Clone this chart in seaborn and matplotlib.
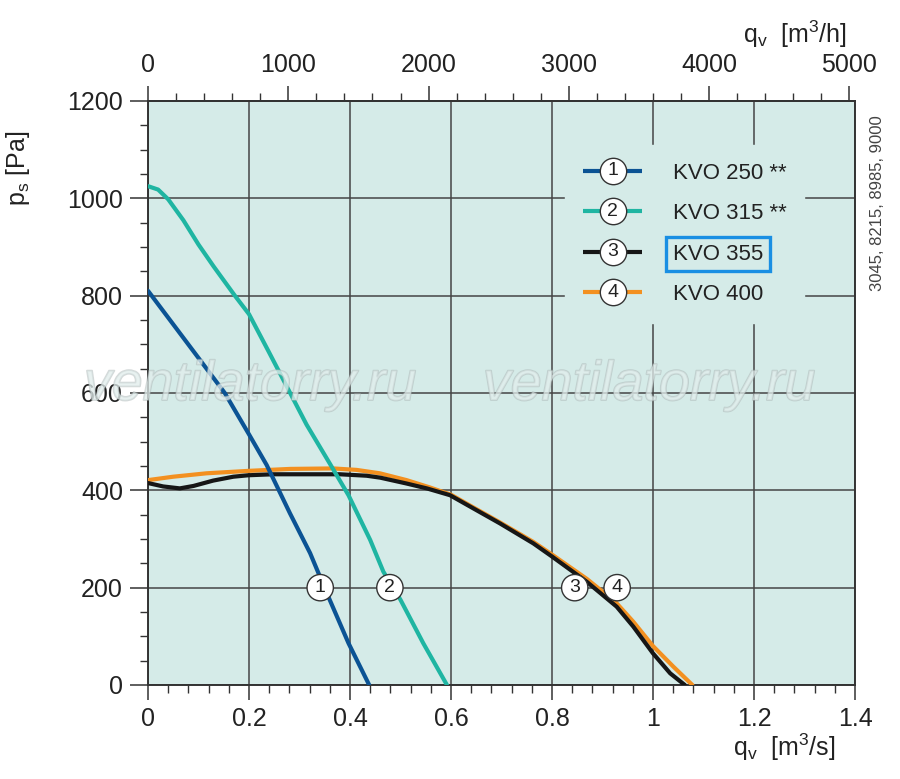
import matplotlib
matplotlib.use('Agg')
import matplotlib.pyplot as plt
import matplotlib.patheffects as pe
from matplotlib.lines import Line2D
from matplotlib.text import Text
from matplotlib.legend_handler import HandlerBase
from matplotlib.ticker import MultipleLocator, FixedLocator, FuncFormatter
import seaborn as sns
import pandas as pd

# curves: flow q_v [m3/s] vs static pressure p_s [Pa]
q_250 = [0, 0.05, 0.1, 0.152, 0.2, 0.235, 0.281, 0.321, 0.354, 0.397, 0.438]
p_250 = [810, 741, 672, 600, 515, 452, 353, 271, 189, 86, 0]

q_315 = [0, 0.02, 0.04, 0.07, 0.1, 0.13, 0.172, 0.2, 0.24, 0.268, 0.314, 0.36, 0.397, 0.44, 0.466, 0.5, 0.545, 0.592]
p_315 = [1025, 1018, 998, 955, 905, 860, 800, 762, 683, 627, 535, 455, 390, 298, 233, 175, 86, 0]

q_355 = [0, 0.03, 0.063, 0.09, 0.129, 0.169, 0.199, 0.248, 0.314, 0.38, 0.433, 0.46, 0.512, 0.552, 0.598,
         0.644, 0.697, 0.763, 0.8, 0.869, 0.928, 0.961, 1.0, 1.034, 1.063]
p_355 = [415, 408, 404, 409, 420, 428, 431, 433, 433, 433, 430, 426, 414, 404, 390,
         363, 332, 291, 264, 212, 161, 120, 65, 24, 0]

q_400 = [0, 0.05, 0.116, 0.199, 0.281, 0.367, 0.413, 0.459, 0.512, 0.558, 0.6,
         0.644, 0.697, 0.763, 0.8, 0.869, 0.9, 0.928, 0.961, 1.0, 1.04, 1.078]
p_400 = [421, 428, 435, 440, 444, 445, 442, 435, 421, 406, 391,
         365, 334, 294, 268, 218, 192, 168, 130, 80, 38, 0]

names = ['KVO 250 **', 'KVO 315 **', 'KVO 355', 'KVO 400']
numbers = ['1', '2', '3', '4']
colors = ['#0b5394', '#1fb5a2', '#161616', '#f39020']
# where the circled numbers sit on the curves (q_v, p_s)
mark_q = [0.341, 0.479, 0.845, 0.929]
mark_p = [200, 200, 200, 200]
top_ticks = [0, 1000, 2000, 3000, 4000, 5000]

bg = '#d5ebe8'
grid_c = '#454545'

sns.set_theme(style='ticks')
plt.rcParams['font.family'] = ['Liberation Sans', 'DejaVu Sans']
plt.rcParams['mathtext.default'] = 'regular'

fig = plt.figure(figsize=(9, 7.79), dpi=100)
ax = fig.add_axes([148 / 900, 1 - 685 / 779, 707 / 900, 584 / 779])
ax.set_facecolor(bg)

curves = {
    'KVO 250 **': (q_250, p_250),
    'KVO 315 **': (q_315, p_315),
    'KVO 355': (q_355, p_355),
    'KVO 400': (q_400, p_400),
}
zorders = {'KVO 400': 3, 'KVO 355': 4, 'KVO 315 **': 5, 'KVO 250 **': 6}
for name, col in zip(names, colors):
    q, p = curves[name]
    df = pd.DataFrame({'q': q, 'p': p})
    sns.lineplot(data=df, x='q', y='p', sort=False, estimator=None, color=col,
                 lw=3, ax=ax, zorder=zorders[name])

for n, xq, yp in zip(numbers, mark_q, mark_p):
    ax.text(xq, yp, n, ha='center', va='center', fontsize=14, color='#222', zorder=8,
            bbox=dict(boxstyle='circle,pad=0.24', fc='white', ec='#333', lw=1))

ax.set_xlim(0, 1.4)
ax.set_ylim(0, 1200)
ax.xaxis.set_major_locator(MultipleLocator(0.2))
ax.xaxis.set_minor_locator(MultipleLocator(0.04))
ax.yaxis.set_major_locator(MultipleLocator(200))
ax.yaxis.set_minor_locator(MultipleLocator(50))
ax.xaxis.set_major_formatter(FuncFormatter(lambda v, _: '%g' % round(v, 2)))
ax.grid(True, which='major', color=grid_c, lw=1.1)
ax.set_axisbelow(True)
ax.set_xlabel('')
ax.set_ylabel('')
for s in ax.spines.values():
    s.set_color('#333')
    s.set_linewidth(1.4)
ax.tick_params(which='major', length=11, width=1.1, color='#333', labelsize=18,
               labelcolor='#222', pad=5)
ax.tick_params(which='minor', length=6, width=1.0, color='#333')
ax.tick_params(axis='y', which='major', length=13)

top = ax.secondary_xaxis('top', functions=(lambda v: v * 3600, lambda v: v / 3600))
top.xaxis.set_major_locator(FixedLocator(top_ticks))
top.xaxis.set_minor_locator(MultipleLocator(200))
top.tick_params(which='major', length=11, width=1.1, color='#333', labelsize=18,
                labelcolor='#222', pad=6)
top.tick_params(which='minor', length=6, width=1.0, color='#333')
top.spines['top'].set_color('#333')
top.spines['top'].set_linewidth(1.4)


class NumHandler(HandlerBase):
    def __init__(self, num, color):
        super().__init__()
        self.num = num
        self.color = color

    def create_artists(self, legend, orig_handle, xdescent, ydescent, width, height, fontsize, trans):
        y = height / 2 - ydescent
        x0 = -xdescent
        ln = Line2D([x0, x0 + width], [y, y], color=self.color, lw=3, solid_capstyle='butt')
        mk = Line2D([x0 + width / 2], [y], marker='o', ms=19, mfc='white', mec='#333', mew=1)
        tx = Text(x0 + width / 2, y, self.num, ha='center', va='center', fontsize=14, color='#222')
        for a in (ln, mk, tx):
            a.set_transform(trans)
        return [ln, mk, tx]


handles = [Line2D([], [], color=c) for c in colors]
hmap = {h: NumHandler(n, c) for h, n, c in zip(handles, numbers, colors)}
leg = ax.legend(handles, names, handler_map=hmap, loc='upper left',
                bbox_to_anchor=(0.5905, 0.925), borderaxespad=0, fontsize=16,
                handlelength=2.65, handletextpad=1.38, labelspacing=0.88,
                borderpad=0.8, frameon=True, fancybox=False, facecolor=bg,
                edgecolor=bg, framealpha=1)
leg.set_zorder(7)
for t in leg.get_texts():
    t.set_color('#222')
leg.get_texts()[2].set_bbox(dict(boxstyle='square,pad=0.3', fc='none', ec='#1a8fe3', lw=2.4))

fig.text(18 / 900, 1 - 168 / 779, r'$p_s$ [Pa]', rotation=90, ha='center', va='center',
         fontsize=18, color='#222')
fig.text(847 / 900, 1 - 43 / 779, r'$q_v$  [m$^3$/h]', ha='right', va='baseline',
         fontsize=18, color='#222')
fig.text(836 / 900, 1 - 756 / 779, r'$q_v$  [m$^3$/s]', ha='right', va='baseline',
         fontsize=18, color='#222')
fig.text(878 / 900, 1 - 203 / 779, '3045, 8215, 8985, 9000', rotation=90, ha='center',
         va='center', fontsize=12, color='#444')

for xc in (250, 649):
    fig.text(xc / 900, 1 - 400 / 779, 'ventilatorry.ru', ha='center', va='baseline',
             fontsize=40, style='italic', color='#e2eeed', alpha=0.5, zorder=20,
             path_effects=[pe.Stroke(linewidth=1.3, foreground='#aab4b4'), pe.Normal()])

fig.savefig('out.png', dpi=100)
